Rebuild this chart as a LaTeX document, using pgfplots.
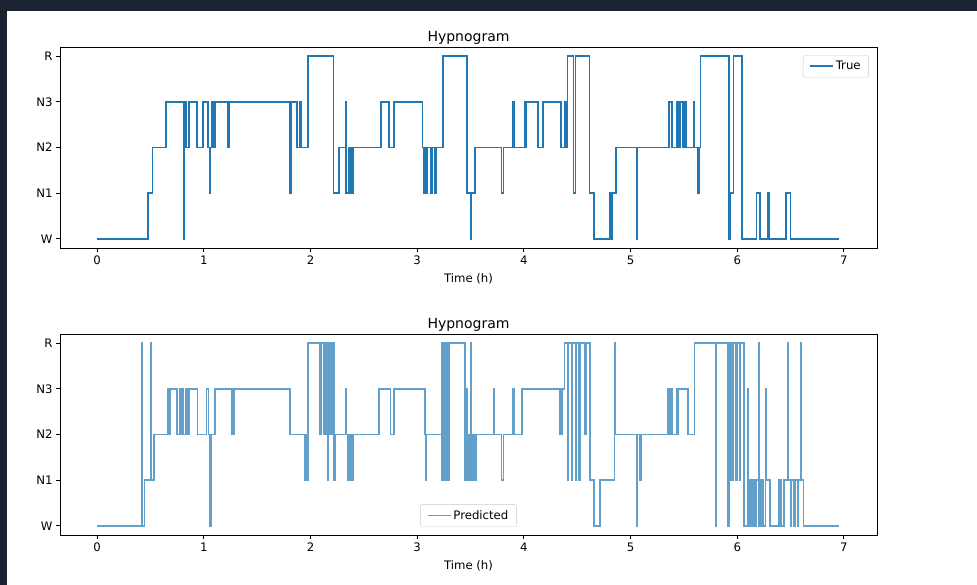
\documentclass[border=0pt]{standalone}
\usepackage{fontspec}
\setmainfont{DejaVu Sans}
\usepackage{pgfplots}
\pgfplotsset{compat=1.18}
\definecolor{tabblue}{HTML}{1F77B4}
\definecolor{predblue}{RGB}{98,160,203}
\definecolor{bgdark}{HTML}{1B2230}
\newcommand{\lblfont}{\fontsize{11.7bp}{14bp}\selectfont}
\pgfplotsset{hyp/.style={
  scale only axis, width=817bp, height=201bp,
  xmin=-0.348, xmax=7.31, ymin=-0.2, ymax=4.2,
  xtick={0,1,2,3,4,5,6,7}, ytick={0,1,2,3,4}, yticklabels={W,N1,N2,N3,R},
  tick align=outside, major tick length=4bp, tick pos=left,
  tick style={black, line width=0.9bp},
  axis line style={line width=0.9bp},
  ticklabel style={font=\lblfont},
  /pgf/number format/assume math mode=true,
  title={Hypnogram},
  title style={font=\fontsize{14bp}{16bp}\selectfont, at={(axis description cs:0.5,1)}, anchor=south, inner sep=0pt, yshift=-3.5bp},
  xlabel={Time (h)},
  xlabel style={font=\lblfont, at={(axis description cs:0.5,0)}, anchor=center, yshift=-31bp},
  legend style={font=\lblfont, draw=black!20, rounded corners=2bp, fill=white, inner xsep=6bp, inner ysep=4bp, cells={anchor=west}},
  legend image code/.code={\draw[#1, line width=1.75bp] (0bp,0bp) -- (23bp,0bp);},
}}
\begin{document}
\begin{tikzpicture}
\fill[bgdark] (0bp,0bp) rectangle (977bp,585bp);
\fill[white] (7bp,0bp) rectangle (977bp,574bp);
\begin{axis}[hyp, at={(60bp,337bp)}, anchor=south west,
  legend style={at={(axis description cs:0.990,0.960)}, anchor=north east}]
\addplot[const plot, tabblue, line width=1.75bp] coordinates {
(0,0) (0.48,1) (0.52,2) (0.645,3) (0.81,2) (0.815,0) (0.82,3) (0.835,2) (0.86,3)
(0.935,2) (0.995,3) (1.04,2) (1.055,1) (1.06,2) (1.075,3) (1.095,2) (1.105,3)
(1.225,2) (1.235,3) (1.81,1) (1.815,3) (1.875,2) (1.905,3) (1.915,2) (1.975,4)
(2.215,1) (2.27,2) (2.33,3) (2.335,1) (2.36,2) (2.38,1) (2.40,2) (2.66,3)
(2.735,2) (2.785,3) (3.05,2) (3.06,1) (3.07,2) (3.08,1) (3.09,2) (3.13,1)
(3.14,2) (3.17,1) (3.18,2) (3.24,4) (3.47,1) (3.505,0) (3.51,1) (3.54,2)
(3.79,1) (3.81,2) (3.90,3) (3.905,2) (4.01,3) (4.02,2) (4.025,3) (4.13,2)
(4.18,3) (4.35,2) (4.38,3) (4.395,2) (4.41,4) (4.465,1) (4.485,4) (4.615,1)
(4.66,0) (4.805,1) (4.825,0) (4.83,1) (4.865,2) (5.055,0) (5.06,2) (5.36,3)
(5.385,2) (5.43,3) (5.445,2) (5.46,3) (5.495,2) (5.51,3) (5.525,2) (5.59,3)
(5.595,2) (5.635,1) (5.64,2) (5.655,4) (5.925,0) (5.93,1) (5.965,4) (6.045,0)
(6.18,1) (6.21,0) (6.285,1) (6.295,0) (6.46,1) (6.50,0) (6.955,0)
};
\addlegendentry{True}
\end{axis}
\begin{axis}[hyp, at={(60bp,50bp)}, anchor=south west,
  legend style={at={(axis description cs:0.5,0.04)}, anchor=south}]
\addplot[const plot, predblue, line width=1.75bp] coordinates {
(0,0) (0.42,4) (0.425,0) (0.445,1) (0.505,4) (0.51,1) (0.53,2) (0.66,3)
(0.67,2) (0.68,3) (0.75,2) (0.78,3) (0.79,2) (0.80,3) (0.81,2) (0.835,3)
(0.845,2) (0.86,3) (0.94,2) (1.025,3) (1.045,2) (1.06,0) (1.065,2) (1.105,3)
(1.265,2) (1.28,3) (1.81,2) (1.945,1) (1.955,2) (1.96,1) (1.97,2) (1.975,1)
(1.98,4) (2.09,2) (2.10,4) (2.13,2) (2.135,4) (2.145,2) (2.15,4) (2.16,1)
(2.165,4) (2.175,2) (2.18,4) (2.19,2) (2.195,4) (2.205,2) (2.21,4) (2.22,1)
(2.235,2) (2.33,3) (2.335,2) (2.35,1) (2.36,2) (2.37,1) (2.38,2) (2.395,1)
(2.40,2) (2.645,3) (2.75,2) (2.78,3) (3.07,2) (3.08,1) (3.085,2) (3.23,1)
(3.235,4) (3.24,1) (3.245,4) (3.25,1) (3.255,4) (3.26,1) (3.265,4) (3.27,1)
(3.275,4) (3.28,1) (3.285,4) (3.29,1) (3.295,4) (3.45,1) (3.46,3) (3.465,1)
(3.48,2) (3.485,1) (3.50,4) (3.51,1) (3.525,2) (3.53,1) (3.55,2) (3.72,3)
(3.725,2) (3.79,1) (3.81,2) (3.90,3) (3.905,2) (3.98,3) (4.335,2) (4.34,3)
(4.345,2) (4.35,3) (4.355,2) (4.36,3) (4.38,4) (4.41,1) (4.415,4) (4.45,1)
(4.455,4) (4.485,1) (4.49,4) (4.52,1) (4.525,4) (4.575,2) (4.58,4) (4.62,1)
(4.66,0) (4.71,1) (4.85,4) (4.855,2) (5.055,0) (5.06,2) (5.09,1) (5.10,2)
(5.35,3) (5.36,2) (5.365,3) (5.375,2) (5.38,3) (5.39,2) (5.43,3) (5.445,2)
(5.45,3) (5.54,2) (5.60,4) (5.795,0) (5.80,4) (5.915,0) (5.92,4) (5.94,1)
(5.96,4) (5.99,1) (6.00,4) (6.02,1) (6.025,4) (6.06,0) (6.095,3) (6.10,0)
(6.12,1) (6.135,0) (6.15,1) (6.165,0) (6.18,1) (6.20,4) (6.205,0) (6.225,1)
(6.24,0) (6.265,3) (6.27,1) (6.31,0) (6.39,1) (6.41,0) (6.44,1) (6.475,4)
(6.48,1) (6.50,0) (6.505,1) (6.535,0) (6.54,1) (6.565,0) (6.57,1) (6.595,4)
(6.60,1) (6.62,0) (6.955,0)
};
\addlegendentry{Predicted}
\end{axis}
\end{tikzpicture}
\end{document}
